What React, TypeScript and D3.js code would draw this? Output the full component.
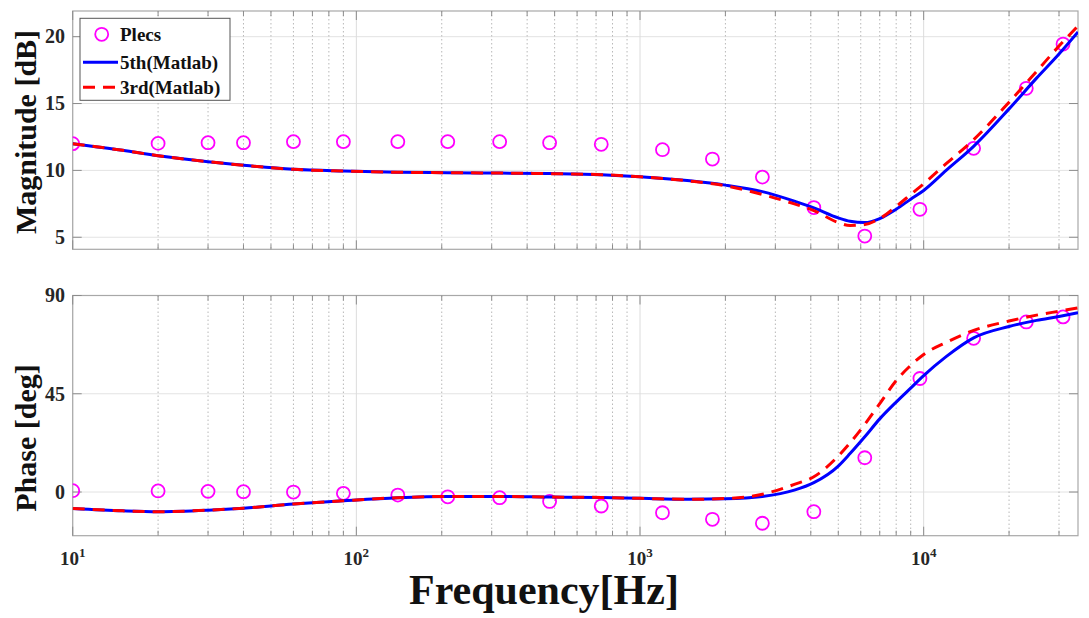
import React, { useEffect, useRef } from 'react';
import * as d3 from 'd3';

// Plecs simulation points
const plecsFreq = [10, 20, 30, 40, 60, 90, 140, 210, 320, 480, 730, 1200, 1800, 2700, 4100, 6200, 9700, 15000, 23000, 31000];
const plecsMag = [12.0, 12.02, 12.07, 12.07, 12.15, 12.15, 12.15, 12.15, 12.15, 12.07, 11.95, 11.55, 10.85, 9.5, 7.22, 5.09, 7.09, 11.65, 16.14, 19.45];
const plecsPhase = [0.6, 0.5, 0.3, 0.15, 0, -0.6, -1.4, -2.2, -2.6, -4.3, -6.4, -9.5, -12.5, -14.3, -9.0, 15.7, 52.0, 70.4, 77.9, 80.2];

// Matlab model curves
const fitFreq = [10, 15, 20, 30, 40, 60, 90, 140, 210, 320, 480, 730, 1000, 1500, 2000, 2700, 3500, 4100, 5000, 5500, 6200, 7000, 8000, 9000, 10000, 12000, 15000, 20000, 25000, 30000, 35000];
const mag5th = [12.0, 11.5, 11.1, 10.65, 10.38, 10.08, 9.95, 9.86, 9.83, 9.8, 9.76, 9.68, 9.53, 9.22, 8.9, 8.41, 7.7, 7.2, 6.45, 6.2, 6.1, 6.4, 7.1, 7.85, 8.5, 10.0, 11.8, 14.6, 16.9, 18.7, 20.35];
const mag3rd = [12.0, 11.5, 11.1, 10.65, 10.38, 10.08, 9.95, 9.86, 9.83, 9.8, 9.76, 9.68, 9.52, 9.2, 8.85, 8.2, 7.5, 7.0, 6.1, 5.88, 5.95, 6.4, 7.3, 8.2, 9.0, 10.5, 12.3, 15.1, 17.4, 19.3, 20.8];
const phase5th = [-7.5, -8.6, -9.0, -8.3, -7.4, -5.5, -4.0, -2.6, -2.0, -2.0, -2.3, -2.5, -2.9, -3.3, -3.1, -2.0, 0.9, 4.3, 11.9, 17.6, 25.3, 33.5, 41.2, 47.6, 53.3, 62.0, 70.6, 75.8, 78.6, 80.4, 82.1];
const phase3rd = [-7.5, -8.6, -9.0, -8.3, -7.4, -5.5, -4.0, -2.6, -2.0, -2.0, -2.3, -2.5, -2.9, -3.3, -3.0, -1.0, 3.5, 7.0, 16.5, 22.5, 31.0, 40.5, 51.0, 58.0, 63.0, 68.5, 74.0, 78.3, 81.0, 82.8, 84.3];

const magTicks = [5, 10, 15, 20];
const phaseTicks = [0, 45, 90];
const decadeTicks = [10, 100, 1000, 10000];
const legendLabels = ['Plecs', '5th(Matlab)', '3rd(Matlab)'];

const FONT = '"Liberation Serif", "Times New Roman", serif';

const App = () => {
  const svgRef = useRef<SVGSVGElement | null>(null);

  useEffect(() => {
    if (!svgRef.current) return;
    const svg = d3.select(svgRef.current);
    svg.selectAll('*').remove();

    const left = 72.7;
    const right = 1078;
    const x = d3.scaleLog().domain([10, 35000]).range([left, right]);

    const minorTicks: number[] = [];
    [10, 100, 1000, 10000].forEach(dec => {
      for (let k = 2; k <= 9; k++) {
        const v = dec * k;
        if (v < 35000) minorTicks.push(v);
      }
    });

    const panels = [
      { y: d3.scaleLinear().domain([4.1, 21.92]).range([249.3, 11]), ticks: magTicks, pts: plecsMag, c5: mag5th, c3: mag3rd, label: 'Magnitude [dB]', labelY: 132, xLabels: false },
      { y: d3.scaleLinear().domain([-20, 90]).range([535.7, 295.5]), ticks: phaseTicks, pts: plecsPhase, c5: phase5th, c3: phase3rd, label: 'Phase [deg]', labelY: 438, xLabels: true },
    ];

    panels.forEach((p, idx) => {
      const [bottom, top] = p.y.range();
      const g = svg.append('g');
      const clipId = `clip${idx}`;
      svg.append('clipPath').attr('id', clipId)
        .append('rect').attr('x', left).attr('y', top).attr('width', right - left).attr('height', bottom - top);

      // grid
      g.selectAll('.ygrid').data(p.ticks).enter().append('line')
        .attr('x1', left).attr('x2', right)
        .attr('y1', d => p.y(d)).attr('y2', d => p.y(d))
        .attr('stroke', '#e3e3e3').attr('stroke-width', 1);
      g.selectAll('.xminor').data(minorTicks).enter().append('line')
        .attr('x1', d => x(d)).attr('x2', d => x(d))
        .attr('y1', top).attr('y2', bottom)
        .attr('stroke', '#b8b8b8').attr('stroke-width', 1).attr('stroke-dasharray', '1.5,2.5');
      g.selectAll('.xmajor').data(decadeTicks).enter().append('line')
        .attr('x1', d => x(d)).attr('x2', d => x(d))
        .attr('y1', top).attr('y2', bottom)
        .attr('stroke', '#dcdcdc').attr('stroke-width', 1);

      // box
      g.append('rect').attr('x', left).attr('y', top)
        .attr('width', right - left).attr('height', bottom - top)
        .attr('fill', 'none').attr('stroke', '#a8a8a8').attr('stroke-width', 1.2);

      // tick marks (inside, all sides)
      const tickColor = '#8c8c8c';
      [...decadeTicks.map(v => ({ v, len: 9 })), ...minorTicks.map(v => ({ v, len: 5 }))].forEach(t => {
        g.append('line').attr('x1', x(t.v)).attr('x2', x(t.v)).attr('y1', bottom).attr('y2', bottom - t.len)
          .attr('stroke', tickColor).attr('stroke-width', 1);
        g.append('line').attr('x1', x(t.v)).attr('x2', x(t.v)).attr('y1', top).attr('y2', top + t.len)
          .attr('stroke', tickColor).attr('stroke-width', 1);
      });
      p.ticks.forEach(v => {
        g.append('line').attr('x1', left).attr('x2', left + 9).attr('y1', p.y(v)).attr('y2', p.y(v))
          .attr('stroke', tickColor).attr('stroke-width', 1);
        g.append('line').attr('x1', right).attr('x2', right - 9).attr('y1', p.y(v)).attr('y2', p.y(v))
          .attr('stroke', tickColor).attr('stroke-width', 1);
      });

      // y tick labels
      g.selectAll('.ylab').data(p.ticks).enter().append('text')
        .attr('x', 65).attr('y', d => p.y(d)).attr('dy', '0.34em')
        .attr('text-anchor', 'end').attr('font-family', FONT).attr('font-weight', 'bold')
        .attr('font-size', 20).attr('fill', '#262626').text(d => String(d));

      // y axis label
      g.append('text')
        .attr('transform', `translate(36, ${p.labelY}) rotate(-90)`)
        .attr('text-anchor', 'middle').attr('font-family', FONT).attr('font-weight', 'bold')
        .attr('font-size', 30).attr('fill', '#111').text(p.label);

      if (p.xLabels) {
        decadeTicks.forEach(v => {
          const t = g.append('text').attr('x', x(v)).attr('y', 565)
            .attr('text-anchor', 'middle').attr('font-family', FONT).attr('font-weight', 'bold')
            .attr('font-size', 19).attr('fill', '#262626');
          t.append('tspan').text('10');
          t.append('tspan').attr('dy', -8).attr('font-size', 13).text(String(Math.round(Math.log10(v))));
        });
      }

      const plot = g.append('g').attr('clip-path', `url(#${clipId})`);

      // Plecs circles
      plot.selectAll('.pt').data(plecsFreq).enter().append('circle')
        .attr('cx', d => x(d)).attr('cy', (d, i) => p.y(p.pts[i])).attr('r', 6.5)
        .attr('fill', 'none').attr('stroke', '#ff00ff').attr('stroke-width', 1.8);

      const line = (vals: number[]) => d3.line<number>()
        .x(d => x(d)).y((d, i) => p.y(vals[i]))
        .curve(d3.curveMonotoneX)(fitFreq);

      plot.append('path').attr('d', line(p.c5) as string)
        .attr('fill', 'none').attr('stroke', '#0000ff').attr('stroke-width', 3);
      plot.append('path').attr('d', line(p.c3) as string)
        .attr('fill', 'none').attr('stroke', '#ff0000').attr('stroke-width', 3)
        .attr('stroke-dasharray', '12,8');
    });

    // x axis title
    svg.append('text').attr('x', 544).attr('y', 604)
      .attr('text-anchor', 'middle').attr('font-family', FONT).attr('font-weight', 'bold')
      .attr('font-size', 42).attr('fill', '#111').text('Frequency[Hz]');

    // legend
    const lg = svg.append('g');
    lg.append('rect').attr('x', 80).attr('y', 18.3).attr('width', 150).attr('height', 82)
      .attr('fill', '#fff').attr('stroke', '#555').attr('stroke-width', 1);
    const rowY = [34.3, 62.3, 87.3];
    lg.append('circle').attr('cx', 101.7).attr('cy', rowY[0]).attr('r', 6.5)
      .attr('fill', 'none').attr('stroke', '#ff00ff').attr('stroke-width', 1.8);
    lg.append('line').attr('x1', 83).attr('x2', 118).attr('y1', rowY[1]).attr('y2', rowY[1])
      .attr('stroke', '#0000ff').attr('stroke-width', 3);
    lg.append('line').attr('x1', 83).attr('x2', 118).attr('y1', rowY[2]).attr('y2', rowY[2])
      .attr('stroke', '#ff0000').attr('stroke-width', 3).attr('stroke-dasharray', '12,8');
    legendLabels.forEach((s, i) => {
      lg.append('text').attr('x', 120).attr('y', rowY[i]).attr('dy', '0.34em')
        .attr('font-family', FONT).attr('font-weight', 'bold').attr('font-size', 19)
        .attr('fill', '#111').text(s);
    });
  }, []);

  return (
    <svg ref={svgRef} width={1089} height={618}
      style={{ position: 'absolute', left: 0, top: 0, background: '#fff' }} />
  );
};

export default App;
